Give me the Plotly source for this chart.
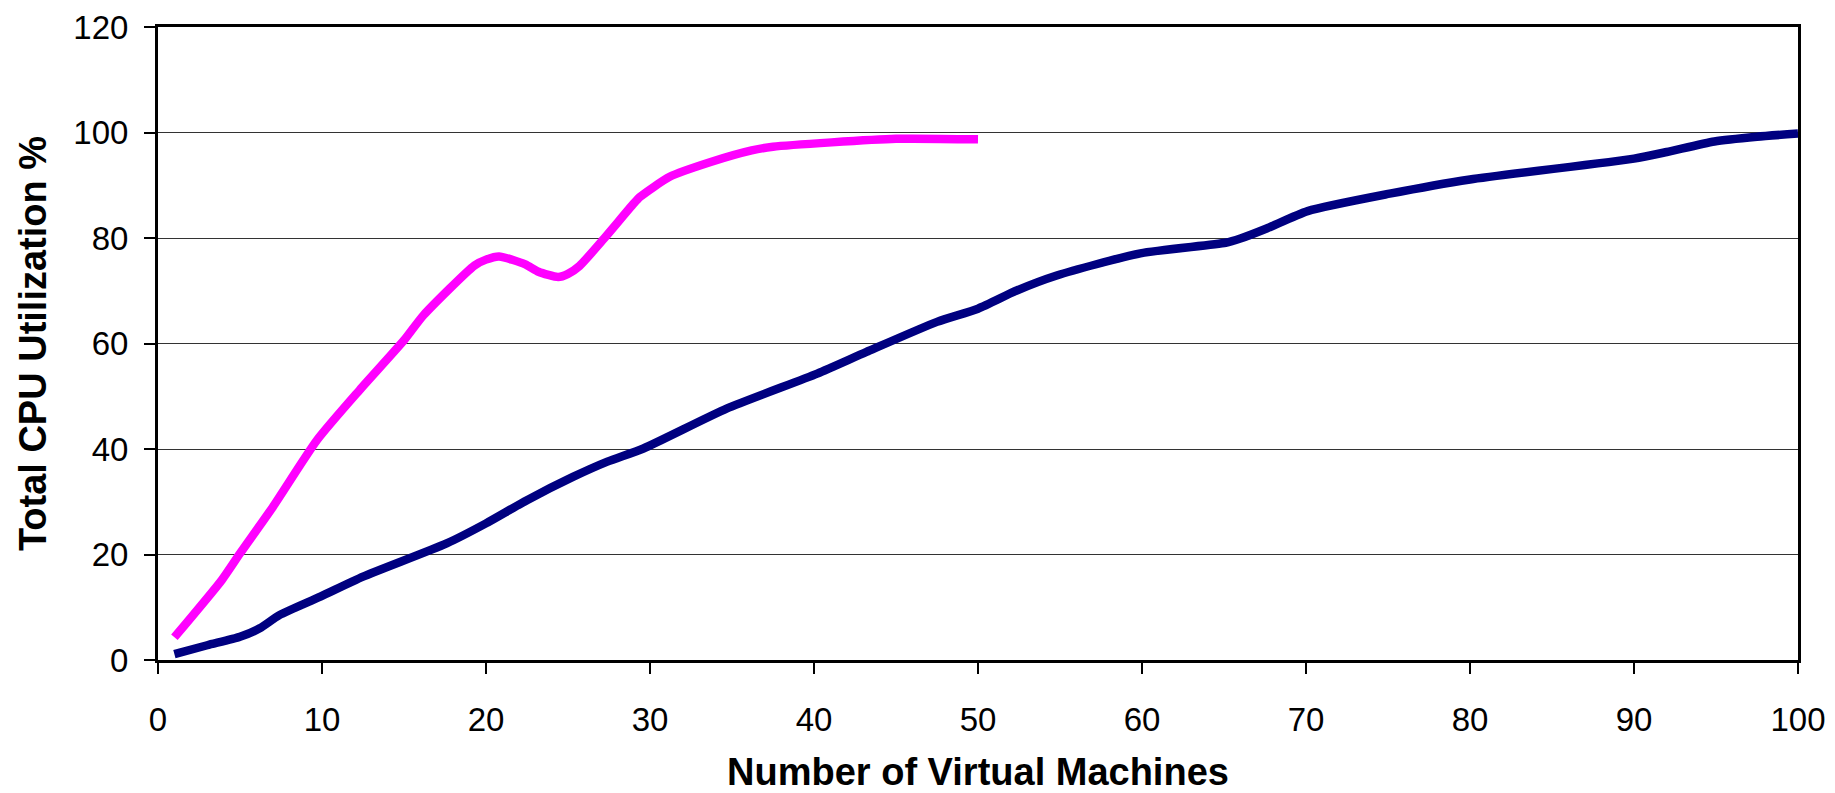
import plotly.graph_objects as go

# Curva magenta (hasta 50 VMs)
vm_a = [1, 3.9, 5, 7, 9.7, 12.3, 15, 16.2, 19.3, 20, 20.8, 22.4, 23.2, 24.4, 25,
        25.7, 27.2, 29, 29.4, 31.2, 33.7, 36.2, 37.5, 45, 50]
cpu_a = [4.3, 15.2, 20.2, 29, 41.7, 51.2, 60.6, 65.4, 74.8, 75.9, 76.5, 75, 73.6, 72.6, 73.2,
         74.7, 79.9, 86.5, 87.8, 91.6, 94.4, 96.6, 97.3, 98.8, 98.7]

# Curva azul marino (hasta 100 VMs)
vm_b = [1, 3, 5, 6.2, 7.4, 9.9, 12.5, 17.6, 20, 22.5, 25.3, 27.4, 29.6, 34.7, 40.2, 43.2,
        47.5, 50, 52.4, 54.8, 59.9, 65.1, 66, 67.6, 70.1, 75.1, 80, 90, 92, 94.9, 97.5, 100]
cpu_b = [1.1, 2.8, 4.4, 6, 8.5, 12, 15.8, 22.1, 25.9, 30.3, 34.7, 37.6, 40.1, 47.7, 54.3, 58.4,
         64.1, 66.6, 70.1, 72.9, 77.1, 79.1, 79.9, 81.8, 85.1, 88.4, 91.1, 95.05, 96.3, 98.3, 99.2, 99.8]

x_ticks = list(range(0, 101, 10))
y_ticks = list(range(0, 121, 20))

fig = go.Figure()
fig.add_trace(go.Scatter(x=vm_a, y=cpu_a, mode="lines",
                         line=dict(color="#FF00FF", width=8.5, shape="spline", smoothing=0.6)))
fig.add_trace(go.Scatter(x=vm_b, y=cpu_b, mode="lines",
                         line=dict(color="#000080", width=8.5, shape="spline", smoothing=0.6)))

font_fam = "Liberation Sans, Arial, sans-serif"
# la página tiene 8px de margen en el body, se compensa aquí
fig.update_layout(
    width=1819, height=785,
    margin=dict(l=150, r=29, t=19, b=133),
    plot_bgcolor="white", paper_bgcolor="white",
    showlegend=False,
    font=dict(family=font_fam, color="black"),
)
fig.update_xaxes(
    range=[0, 100], tickvals=x_ticks, showgrid=False, zeroline=False, automargin=False,
    showline=True, linecolor="black", linewidth=3, mirror=True,
    ticks="outside", ticklen=11, tickwidth=1.5, tickcolor="black",
    tickfont=dict(size=33), ticklabelstandoff=17,
    title=dict(text="<b>Number of Virtual Machines</b>", font=dict(size=38), standoff=40),
)
fig.update_yaxes(
    range=[0, 120], tickvals=y_ticks, showgrid=True, gridcolor="#333333", gridwidth=1.2,
    zeroline=False, automargin=False, showline=True, linecolor="black", linewidth=3, mirror=True,
    ticks="outside", ticklen=11, tickwidth=1.5, tickcolor="black",
    tickfont=dict(size=33), ticklabelstandoff=9,
    title=dict(text="<b>Total CPU Utilization %</b>", font=dict(size=38), standoff=16),
)

fig.write_html("out.html")
